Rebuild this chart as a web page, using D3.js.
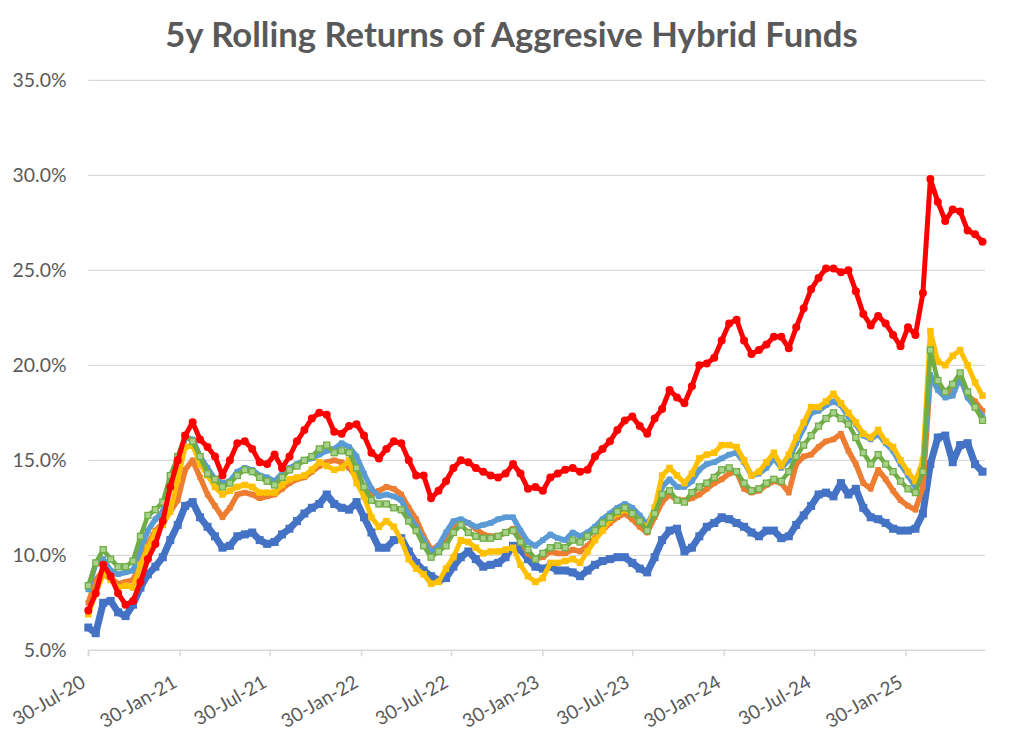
<!DOCTYPE html>
<html>
<head>
<meta charset="utf-8">
<script src="https://cdn.jsdelivr.net/npm/d3@7"></script>
<style>
  html, body { margin: 0; padding: 0; background: #ffffff; }
  svg { display: block; }
</style>
</head>
<body>
<svg id="chart" width="1024" height="743"></svg>
<script>
// ---------- DATA ----------
const titleText = "5y Rolling Returns of Aggresive Hybrid Funds";
const startDate = "30-Jul-20";
const endDate = "09-Jul-25";
const sampleStepDays = 15;           // one reading every 15 days
const xTickLabels = ["30-Jul-20","30-Jan-21","30-Jul-21","30-Jan-22","30-Jul-22","30-Jan-23","30-Jul-23","30-Jan-24","30-Jul-24","30-Jan-25"];
const yTickValues = [5, 10, 15, 20, 25, 30, 35];

// values in %
const darkBlue = [6.2,5.9,7.5,7.6,7.0,6.8,7.4,8.3,9.0,9.4,
9.9,10.8,11.6,12.6,12.8,12.0,11.5,11.0,10.4,10.5,
11.0,11.1,11.2,10.8,10.6,10.7,11.1,11.4,11.8,12.2,
12.5,12.7,13.2,12.7,12.5,12.4,12.8,12.0,11.2,10.4,
10.4,10.8,10.9,10.2,9.6,9.2,8.9,8.7,8.8,9.4,
9.9,10.2,9.8,9.4,9.5,9.6,9.9,10.5,10.3,9.8,
9.4,9.3,9.4,9.2,9.2,9.1,8.9,9.2,9.5,9.7,
9.8,9.9,9.9,9.6,9.3,9.1,9.9,10.8,11.3,11.4,
10.2,10.4,11.0,11.5,11.7,12.0,11.9,11.7,11.5,11.2,
11.0,11.3,11.3,10.9,11.0,11.6,12.1,12.6,13.2,13.3,
13.1,13.8,13.2,13.5,12.5,12.0,11.9,11.7,11.4,11.3,
11.3,11.4,12.2,14.8,16.2,16.3,14.9,15.8,15.9,14.8,
14.4];

const orange = [7.5,8.7,9.2,8.8,8.5,8.6,8.7,9.6,10.6,11.3,
11.7,12.3,12.9,14.5,15.0,14.1,13.2,12.6,12.0,12.5,
13.2,13.3,13.2,13.0,13.1,13.2,13.5,13.8,14.0,14.1,
14.4,14.7,14.9,15.0,14.9,14.6,14.1,13.5,13.2,13.4,
13.6,13.5,13.2,12.5,11.9,11.0,10.3,10.5,10.9,11.4,
11.8,11.7,11.4,11.1,11.0,11.0,11.2,11.4,10.8,10.1,
9.8,9.9,10.2,10.1,10.1,10.3,10.2,10.5,10.9,11.3,
11.7,12.0,12.2,11.9,11.5,11.2,12.0,12.8,13.2,12.9,
12.9,13.0,13.2,13.5,13.8,14.0,14.3,14.4,13.5,13.3,
13.4,13.7,13.9,13.8,13.3,14.8,15.2,15.3,15.7,16.0,
16.1,16.4,15.5,14.8,13.8,13.5,14.5,14.0,13.4,12.9,
12.6,12.4,13.6,19.4,19.0,18.4,18.6,19.3,18.4,18.1,
17.6];

const lightBlue = [8.2,9.6,9.8,9.2,9.0,9.1,9.2,10.3,11.3,11.9,
12.3,13.6,14.6,16.2,16.1,15.2,14.6,14.0,13.8,13.9,
14.4,14.6,14.5,14.2,14.1,13.9,14.3,14.6,14.8,15.0,
15.1,15.3,15.5,15.6,15.9,15.7,15.2,14.3,13.5,13.1,
13.2,13.1,12.9,12.1,11.5,10.8,10.1,10.5,11.2,11.8,
11.9,11.7,11.5,11.6,11.7,11.9,12.0,12.0,11.3,10.7,
10.5,10.8,11.1,10.9,10.8,11.2,11.0,11.2,11.5,11.9,
12.2,12.5,12.7,12.5,12.1,11.6,12.4,13.6,14.0,13.6,
13.6,13.9,14.5,14.8,14.9,15.1,15.3,15.4,14.9,14.2,
14.3,14.6,15.1,14.6,15.0,15.9,16.7,17.5,17.6,17.9,
18.1,17.9,17.3,16.9,16.3,16.1,16.4,15.9,15.5,14.8,
14.2,13.6,14.8,19.5,18.7,18.3,18.4,19.4,18.3,17.8,
17.3];

const yellow = [6.9,8.0,9.0,8.7,8.3,8.4,8.3,9.5,10.4,11.2,
11.6,12.3,14.0,15.7,15.8,14.8,14.2,13.6,13.2,13.4,
13.6,13.7,13.6,13.3,13.3,13.3,13.7,14.0,14.1,14.2,
14.5,14.9,14.7,14.5,14.6,15.0,13.8,13.1,12.0,11.5,
11.8,11.5,10.8,9.8,9.3,9.0,8.5,8.6,9.3,9.9,
10.8,10.7,10.4,10.1,10.2,10.2,10.3,10.4,9.5,8.9,
8.6,8.8,9.6,9.6,9.7,9.8,9.6,10.2,10.8,11.3,
11.9,12.2,12.4,12.2,11.8,11.4,12.5,14.2,14.6,14.2,
13.8,14.3,15.1,15.3,15.4,15.8,15.8,15.7,15.0,14.2,
14.4,14.9,15.4,14.7,15.3,16.2,17.0,17.8,17.8,18.1,
18.5,18.0,17.5,17.0,16.4,16.2,16.6,16.0,15.7,15.0,
14.4,13.9,15.0,21.8,20.2,20.0,20.5,20.8,20.0,19.1,
18.4];

const green = [8.4,9.6,10.3,9.8,9.4,9.4,9.7,11.0,12.1,12.4,
12.8,14.2,15.2,16.3,16.0,15.2,14.3,14.0,13.6,13.8,
14.2,14.5,14.4,14.1,13.9,13.7,14.1,14.5,14.7,15.0,
15.2,15.6,15.8,15.4,15.5,15.4,14.6,13.6,12.9,12.7,
12.7,12.5,12.4,11.8,11.3,10.5,9.9,10.2,10.5,11.2,
11.6,11.2,11.0,10.9,10.9,11.0,11.2,11.3,10.7,10.3,
9.8,10.1,10.4,10.5,10.4,10.8,10.7,11.0,11.3,11.7,
12.0,12.3,12.5,12.2,11.8,11.3,12.2,13.2,13.4,12.9,
12.8,13.3,13.6,13.8,14.1,14.5,14.6,14.4,13.8,13.4,
13.5,13.8,14.0,13.9,14.4,15.2,15.8,16.3,16.8,17.2,
17.5,17.2,16.9,16.2,15.4,14.8,15.3,14.8,14.4,13.9,
13.5,13.3,14.4,20.8,19.2,18.6,19.0,19.6,18.6,17.8,
17.1];

const red = [7.1,8.0,9.5,8.9,8.0,7.4,7.6,8.6,9.8,10.6,
11.8,13.6,15.0,16.3,17.0,16.1,15.7,15.2,14.2,15.0,
15.9,16.0,15.6,14.9,14.8,15.3,14.6,15.2,16.0,16.6,
17.2,17.5,17.4,16.5,16.4,16.8,16.9,16.3,15.4,15.1,
15.6,16.0,15.9,15.0,14.2,14.2,13.0,13.4,13.9,14.6,
15.0,14.9,14.6,14.4,14.2,14.1,14.3,14.8,14.3,13.5,
13.6,13.4,14.1,14.3,14.5,14.6,14.4,14.5,15.2,15.6,
16.0,16.6,17.1,17.3,16.8,16.4,17.2,17.7,18.7,18.3,
18.0,18.9,20.0,20.1,20.4,21.3,22.2,22.4,21.3,20.6,
20.8,21.1,21.5,21.5,20.9,22.0,23.0,24.0,24.6,25.1,
25.1,24.9,25.0,23.9,22.7,22.1,22.6,22.2,21.6,21.0,
22.0,21.6,23.8,29.8,28.6,27.6,28.2,28.1,27.1,26.9,
26.5];

// drawing order (first drawn at bottom)
const seriesList = [
  { name: "darkBlue",  values: darkBlue,  color: "#4472C4", marker: "square", size: 8,   line: 7,   fill: "#4472C4" },
  { name: "orange",    values: orange,    color: "#ED7D31", marker: "square", size: 5.5, line: 5.5, fill: "#ED7D31" },
  { name: "lightBlue", values: lightBlue, color: "#5B9BD5", marker: "square", size: 5.5, line: 5.5, fill: "#5B9BD5" },
  { name: "yellow",    values: yellow,    color: "#FFC000", marker: "square", size: 6.5, line: 5,   fill: "#FFC000" },
  { name: "green",     values: green,     color: "#70AD47", marker: "hollow", size: 6,   line: 4.5, fill: "#a9d18e" },
  { name: "red",       values: red,       color: "#FF0000", marker: "circle", size: 4,   line: 5,   fill: "#FF0000" }
];

// ---------- CHART ----------
const parse = d3.timeParse("%d-%b-%y");
const t0 = parse(startDate), t1 = parse(endDate);
const dates = red.map((_, i) => d3.timeDay.offset(t0, i * sampleStepDays));

const svg = d3.select("#chart");
svg.append("rect").attr("width", 1024).attr("height", 743).attr("fill", "#ffffff");

const plot = { left: 88.3, right: 985, top: 80.3, bottom: 650.3 };
const x = d3.scaleTime().domain([t0, t1]).range([plot.left, plot.right]);
const y = d3.scaleLinear().domain([5, 35]).range([plot.bottom, plot.top]);

const textColor = "#595959";
const fontFamily = "Lato, 'Open Sans', sans-serif";

// gridlines
svg.append("g")
  .selectAll("line")
  .data(yTickValues.filter(v => v !== 5))
  .join("line")
  .attr("x1", plot.left).attr("x2", plot.right)
  .attr("y1", d => y(d)).attr("y2", d => y(d))
  .attr("stroke", "#d9d9d9").attr("stroke-width", 1.2);

// y labels
const yLab = svg.append("g")
  .selectAll("text")
  .data(yTickValues)
  .join("text")
  .attr("x", 66.5)
  .attr("y", d => y(d))
  .attr("dy", "0.35em")
  .attr("text-anchor", "end")
  .attr("fill", textColor)
  .attr("font-family", fontFamily)
  .attr("font-size", 19)
  .text(d => d.toFixed(1) + "%");
(function(){
  const n = yLab.nodes()[yLab.size()-1];
  const w = n.getComputedTextLength();
  yLab.attr("font-size", 19 * 54 / w);
})();

// x axis
const xAxis = d3.axisBottom(x)
  .tickValues(xTickLabels.map(parse))
  .tickSize(6)
  .tickFormat("");
const gx = svg.append("g")
  .attr("transform", `translate(0,${plot.bottom})`)
  .call(xAxis);
gx.select(".domain").attr("stroke", "#d9d9d9").attr("stroke-width", 1.5)
  .attr("d", `M${plot.left},6V0H${plot.right}`);
gx.selectAll(".tick line").attr("stroke", "#d9d9d9").attr("stroke-width", 1.5);

const xLab = svg.append("g")
  .selectAll("text")
  .data(xTickLabels)
  .join("text")
  .attr("transform", d => `translate(${x(parse(d)) - 1.5},686) rotate(-30)`)
  .attr("text-anchor", "end")
  .attr("fill", textColor)
  .attr("font-family", fontFamily)
  .attr("font-size", 19)
  .text(d => d);
(function(){
  const n = xLab.nodes()[0];
  const w = n.getComputedTextLength();
  xLab.attr("font-size", 19 * 80 / w);
})();

// series
const line = d3.line().x((d, i) => x(dates[i])).y(d => y(d));
seriesList.forEach(s => {
  const g = svg.append("g").attr("class", "series-" + s.name);
  if (s.line > 0) {
    g.append("path")
      .attr("d", line(s.values))
      .attr("fill", "none")
      .attr("stroke", s.color)
      .attr("stroke-width", s.line)
      .attr("stroke-linejoin", "round");
  }
  if (s.marker === "circle") {
    g.selectAll("circle").data(s.values).join("circle")
      .attr("cx", (d, i) => x(dates[i]))
      .attr("cy", d => y(d))
      .attr("r", s.size)
      .attr("fill", s.fill);
  } else {
    g.selectAll("rect").data(s.values).join("rect")
      .attr("x", (d, i) => x(dates[i]) - s.size / 2)
      .attr("y", d => y(d) - s.size / 2)
      .attr("width", s.size).attr("height", s.size)
      .attr("fill", s.fill)
      .attr("stroke", s.marker === "hollow" ? s.color : "none")
      .attr("stroke-width", s.marker === "hollow" ? 1.3 : 0);
  }
});

// title
const title = svg.append("text")
  .attr("x", 511.5).attr("y", 47)
  .attr("text-anchor", "middle")
  .attr("fill", textColor)
  .attr("font-family", fontFamily)
  .attr("font-weight", "bold")
  .attr("font-size", 32)
  .text(titleText);
(function(){
  const w = title.node().getComputedTextLength();
  title.attr("font-size", 32 * 693 / w);
})();
</script>
</body>
</html>
